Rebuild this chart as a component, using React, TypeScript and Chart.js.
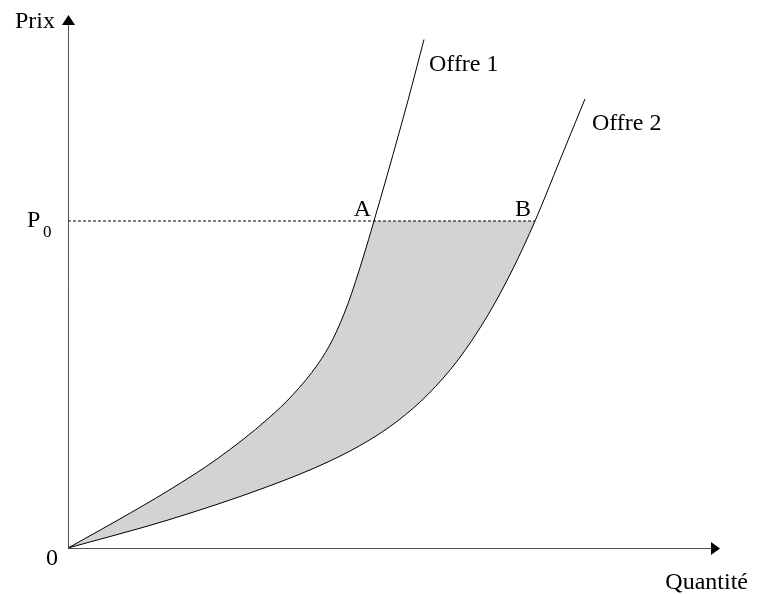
import React, { useEffect, useRef } from "react";
import { Chart, registerables } from "chart.js";

Chart.register(...registerables);

// Quantité (x) and Prix (y) on a 0–100 scale
const offre1X = [0, 7.67, 15.34, 23.01, 30.67, 34.51, 38.34, 40.64, 42.94, 45.25, 46.93, 49.08, 52.15, 54.6];
const offre1Y = [0, 5.25, 10.74, 16.84, 24.25, 28.78, 34.52, 39.23, 45.84, 54.43, 61.35, 70.49, 84.0, 95.4];
const offre2X = [0, 15.34, 30.67, 39.88, 46.01, 50.61, 55.21, 59.82, 64.42, 68.25, 71.63, 75.46, 79.29];
const offre2Y = [0, 5.25, 11.54, 16.15, 20.09, 23.89, 28.82, 35.29, 43.73, 52.41, 61.35, 72.8, 84.24];
const prixP0 = 61.35;
const pointA = { x: 46.93, y: prixP0 };
const pointB = { x: 71.63, y: prixP0 };
const seriesLabels = ["Offre 1", "Offre 2"];

const FONT = '"Liberation Serif", "Times New Roman", serif';

const drawPlugin = {
  id: "econDecor",
  beforeDatasetsDraw(chart: any) {
    const ctx = chart.ctx;
    const y = chart.scales.y;
    const l1 = chart.getDatasetMeta(0).dataset;
    const l2 = chart.getDatasetMeta(1).dataset;
    const p0 = y.getPixelForValue(prixP0);
    ctx.save();
    ctx.beginPath();
    ctx.rect(0, p0, chart.width, chart.height - p0);
    ctx.clip();
    ctx.beginPath();
    l1.path(ctx);
    for (const seg of l2.segments) {
      l2.pathSegment(ctx, seg, { move: false, reverse: true });
    }
    ctx.closePath();
    ctx.fillStyle = "#d3d3d3";
    ctx.fill();
    ctx.restore();
  },
  afterDraw(chart: any) {
    const ctx = chart.ctx;
    const { left, right, top, bottom } = chart.chartArea;
    const xs = chart.scales.x;
    const ys = chart.scales.y;
    ctx.save();
    // axes
    ctx.strokeStyle = "#505050";
    ctx.lineWidth = 1;
    ctx.beginPath();
    ctx.moveTo(left + 0.5, bottom);
    ctx.lineTo(left + 0.5, top + 8);
    ctx.moveTo(left, bottom + 0.5);
    ctx.lineTo(right - 8, bottom + 0.5);
    ctx.stroke();
    ctx.fillStyle = "#000";
    ctx.beginPath();
    ctx.moveTo(left + 0.5, top);
    ctx.lineTo(left + 7, top + 10);
    ctx.lineTo(left - 6, top + 10);
    ctx.closePath();
    ctx.fill();
    ctx.beginPath();
    ctx.moveTo(right, bottom + 0.5);
    ctx.lineTo(right - 9, bottom + 7);
    ctx.lineTo(right - 9, bottom - 6);
    ctx.closePath();
    ctx.fill();

    // texts
    ctx.fillStyle = "#000";
    ctx.textBaseline = "alphabetic";
    ctx.font = `24px ${FONT}`;
    ctx.textAlign = "right";
    ctx.fillText("Prix", left - 13, top + 13);
    ctx.fillText("0", left - 10, bottom + 17);
    ctx.fillText("Quantité", right + 28, bottom + 41);
    const p0 = ys.getPixelForValue(prixP0);
    ctx.textAlign = "left";
    ctx.fillText("P", left - 41, p0 + 6);
    ctx.font = `17px ${FONT}`;
    ctx.fillText("0", left - 25, p0 + 16);
    ctx.font = `24px ${FONT}`;
    ctx.textAlign = "right";
    ctx.fillText("A", xs.getPixelForValue(pointA.x) - 3, p0 - 5);
    ctx.fillText("B", xs.getPixelForValue(pointB.x) - 4, p0 - 5);
    ctx.textAlign = "left";
    const e1x = xs.getPixelForValue(offre1X[offre1X.length - 1]);
    const e1y = ys.getPixelForValue(offre1Y[offre1Y.length - 1]);
    ctx.fillText(seriesLabels[0], e1x + 5, e1y + 31);
    const e2x = xs.getPixelForValue(offre2X[offre2X.length - 1]);
    const e2y = ys.getPixelForValue(offre2Y[offre2Y.length - 1]);
    ctx.fillText(seriesLabels[1], e2x + 7, e2y + 31);
    ctx.restore();
  },
};

export default function App() {
  const ref = useRef<HTMLCanvasElement>(null);
  useEffect(() => {
    if (!ref.current) return;
    const chart = new Chart(ref.current, {
      type: "line",
      data: {
        datasets: [
          {
            label: seriesLabels[0],
            data: offre1X.map((x, i) => ({ x, y: offre1Y[i] })),
            borderColor: "#000",
            borderWidth: 1,
            pointRadius: 0,
            cubicInterpolationMode: "monotone",
            fill: false,
          },
          {
            label: seriesLabels[1],
            data: offre2X.map((x, i) => ({ x, y: offre2Y[i] })),
            borderColor: "#000",
            borderWidth: 1,
            pointRadius: 0,
            cubicInterpolationMode: "monotone",
            fill: false,
          },
          {
            label: "P0",
            data: [
              { x: 0, y: prixP0 },
              { x: pointB.x, y: prixP0 },
            ],
            borderColor: "#000",
            borderWidth: 1,
            borderDash: [3, 2],
            pointRadius: 0,
            fill: false,
          },
        ],
      },
      options: {
        responsive: false,
        animation: false,
        events: [],
        layout: { padding: { left: 68, right: 42, top: 15, bottom: 46 } },
        scales: {
          x: { type: "linear", min: 0, max: 100, display: false },
          y: { type: "linear", min: 0, max: 100, display: false },
        },
        plugins: {
          legend: { display: false },
          tooltip: { enabled: false },
        },
      },
      plugins: [drawPlugin],
    });
    return () => chart.destroy();
  }, []);
  return (
    <div style={{ position: "fixed", left: 0, top: 0, width: 762, height: 594, background: "#fff" }}>
      <canvas ref={ref} width={762} height={594} />
    </div>
  );
}
